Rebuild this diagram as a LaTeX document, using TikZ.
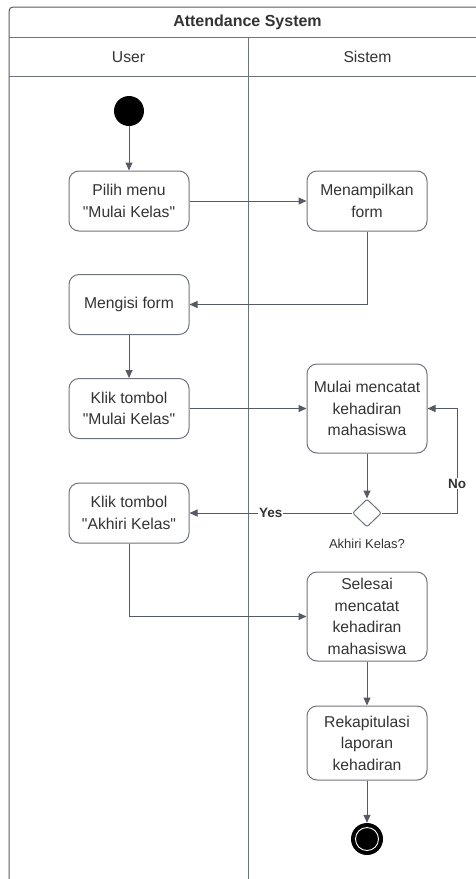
\documentclass[tikz,border=0pt]{standalone}
\usepackage{fontspec}
\setmainfont{Liberation Sans}[Ligatures=TeXOff]
\usetikzlibrary{arrows.meta,shapes.geometric}
\definecolor{ln}{RGB}{85,90,100}
\definecolor{bx}{RGB}{110,115,125}
\definecolor{tx}{RGB}{51,51,51}
\begin{document}
\begin{tikzpicture}[x=1pt,y=-1pt,
  act/.style={draw=bx,line width=1pt,rounded corners=10pt,minimum width=120pt,align=center,text=tx,
    font=\fontsize{15.7}{21.5}\selectfont,inner sep=0pt},
  flow/.style={draw=ln,line width=1pt,-{Triangle[length=8pt,width=7pt]}},
  lbl/.style={fill=white,text=tx,font=\fontsize{13.5}{15}\selectfont\bfseries,inner sep=1pt},
  frame/.style={draw=ln,line width=1pt},
  hdr/.style={text=tx,font=\fontsize{15.7}{18}\selectfont}]
\useasboundingbox (0,0) rectangle (476,879);
\clip (0,0) rectangle (476,879);
% frame
\draw[frame,rounded corners=4pt] (9,890) -- (9,7) -- (490,7) -- (490,890);
\draw[frame,draw=bx] (9,37) -- (490,37);
\draw[frame,draw=bx] (9,76) -- (490,76);
\draw[frame,draw=bx] (248,37) -- (248,890);
\node[hdr,font=\fontsize{16}{18}\selectfont\bfseries] (title) at (247.5,22) {Attendance System};
\node[hdr] (user) at (128.5,57) {User};
\node[hdr] (sistem) at (367.5,57) {Sistem};
% nodes
\node[circle,fill=black,minimum size=30pt,inner sep=0pt] (start) at (129,111) {};
\node[act,minimum height=60pt] (pilih) at (129,201) {Pilih menu\\"Mulai Kelas"};
\node[act,minimum height=60pt] (tampil) at (367,201) {Menampilkan\\form};
\node[act,minimum height=60pt] (isi) at (129,304.5) {Mengisi form};
\node[act,minimum height=60pt] (kmulai) at (129,408.5) {Klik tombol\\"Mulai Kelas"};
\node[act,minimum height=89pt] (catat) at (367,408.5) {Mulai mencatat\\kehadiran\\mahasiswa};
\node[diamond,draw=bx,line width=1pt,minimum width=29pt,minimum height=28pt,inner sep=0pt,rounded corners=2pt] (dec) at (367,513) {};
\node[text=tx,font=\fontsize{13}{15}\selectfont] (declbl) at (367,544) {Akhiri Kelas?};
\node[act,minimum height=60pt] (kakhiri) at (129,513) {Klik tombol\\"Akhiri Kelas"};
\node[act,minimum height=89pt] (selesai) at (367,616.5) {Selesai\\mencatat\\kehadiran\\mahasiswa};
\node[act,minimum height=74pt] (rekap) at (367,743) {Rekapitulasi\\laporan\\kehadiran};
\node[circle,fill=black,minimum size=32pt,inner sep=0pt] (end) at (367,839) {};
\draw[white,line width=0.9pt] (end.center) circle (11.5pt);
\coordinate (nocorner) at (457,513);
% connectors
\draw[flow] (start) -- (pilih);
\draw[flow] (pilih) -- (tampil);
\draw[flow] (tampil.south) |- (isi.east);
\draw[flow] (isi) -- (kmulai);
\draw[flow] (kmulai) -- (catat);
\draw[flow] (catat) -- (dec);
\draw[flow] (dec.west) -- node[lbl,pos=0.5]{Yes} (kakhiri.east);
\draw[flow] (dec.east) -- (nocorner) |- node[lbl,pos=0.14]{No} (catat.east);
\draw[flow] (kakhiri.south) |- (selesai.west);
\draw[flow] (selesai) -- (rekap);
\draw[flow] (rekap) -- (end);
\end{tikzpicture}
\end{document}
